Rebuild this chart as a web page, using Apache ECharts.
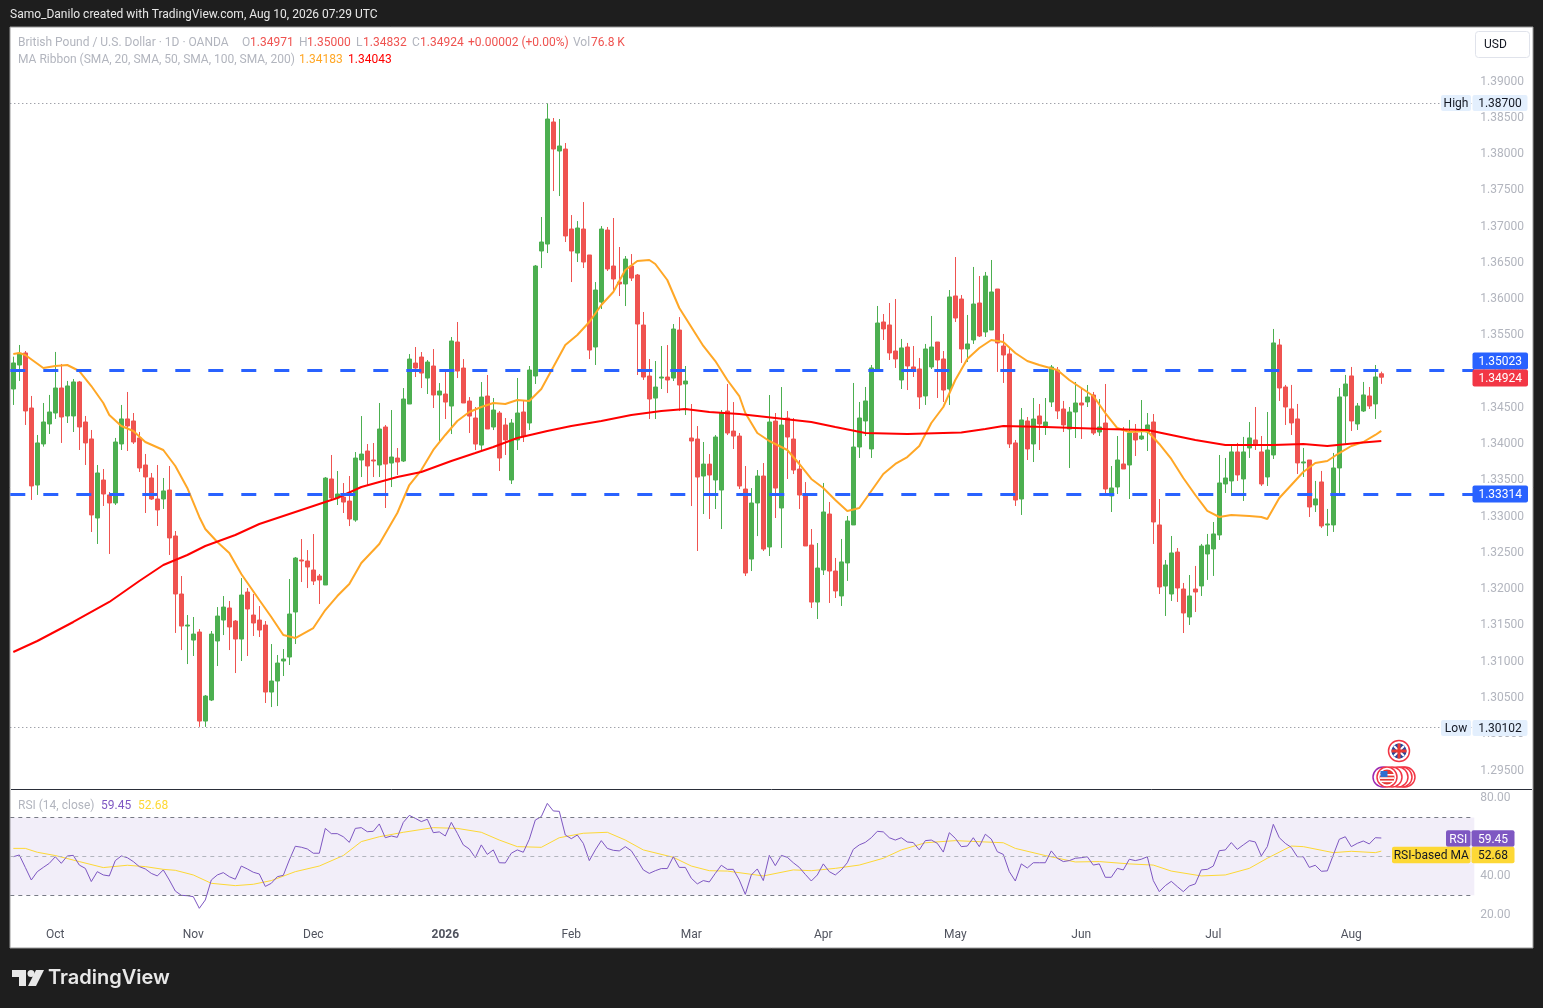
<!DOCTYPE html>
<html><head><meta charset="utf-8">
<style>html,body{margin:0;padding:0;background:#1e1e1e}#c{width:1543px;height:1008px}</style>
<script src="https://cdn.jsdelivr.net/npm/echarts@6/dist/echarts.min.js"></script>
</head><body><div id="c"></div>
<script>
const opens=[1.34761,1.35092,1.35258,1.34499,1.33437,1.34003,1.34279,1.34430,1.34775,1.34389,
1.34389,1.34858,1.34306,1.34072,1.32982,1.33506,1.33300,1.33189,1.34003,1.34348,
1.34320,1.34086,1.33713,1.33534,1.33244,1.33244,1.33368,1.32734,1.31934,1.31492,
1.31299,1.31410,1.30182,1.30472,1.31286,1.31575,1.31741,1.31561,1.31313,1.31961,
1.31644,1.31575,1.31506,1.30582,1.30734,1.31010,1.31065,1.31686,1.32403,1.32389,
1.32265,1.32182,1.32058,1.33520,1.33258,1.33271,1.33216,1.32954,1.33782,1.33906,
1.33782,1.33713,1.34237,1.33740,1.33809,1.33768,1.34554,1.35119,1.35202,1.34912,
1.35078,1.34678,1.34692,1.34526,1.35409,1.35050,1.34595,1.34361,1.33988,1.34664,
1.34237,1.34430,1.34265,1.33506,1.34058,1.34444,1.34292,1.34940,1.36664,1.36760,
1.38443,1.38043,1.38070,1.36967,1.36636,1.36967,1.36609,1.35340,1.35960,1.36953,
1.36457,1.36236,1.36209,1.36457,1.36333,1.35643,1.34940,1.34636,1.34912,1.34926,
1.34912,1.35574,1.34830,1.34085,1.34071,1.33561,1.33726,1.33506,1.33368,1.34457,
1.34181,1.34112,1.33382,1.32416,1.33189,1.33561,1.32582,1.34319,1.33120,1.34361,
1.34071,1.33657,1.33313,1.32609,1.31823,1.32265,1.33037,1.32251,1.31907,1.32362,
1.32886,1.33961,1.34320,1.33934,1.35023,1.35685,1.35644,1.35285,1.34885,1.35340,
1.35065,1.35037,1.34665,1.35065,1.35409,1.35175,1.34761,1.36044,1.36002,1.35313,
1.35437,1.35947,1.35547,1.35575,1.36140,1.35354,1.35244,1.34017,1.33244,1.34320,
1.34003,1.34389,1.34251,1.34582,1.35023,1.34485,1.34209,1.34444,1.34568,1.34582,
1.34678,1.34168,1.34292,1.33286,1.33410,1.33727,1.33713,1.34154,1.34072,1.34168,
1.34306,1.32886,1.32044,1.31934,1.32513,1.32003,1.31617,1.32003,1.32045,1.32486,
1.32555,1.32748,1.33451,1.33493,1.33893,1.33520,1.33948,1.34058,1.33893,1.33548,
1.33851,1.35368,1.34789,1.34486,1.34348,1.33741,1.33782,1.33162,1.33479,1.32886,
1.32886,1.33672,1.34665,1.34941,1.34279,1.34458,1.34665,1.34555,1.34971];
const closes=[1.35120,1.35253,1.34458,1.33424,1.34017,1.34306,1.34444,1.34775,1.34375,1.34803,
1.34858,1.34237,1.34017,1.33024,1.33603,1.33313,1.33189,1.34030,1.34348,1.34251,
1.34030,1.33672,1.33548,1.33244,1.33093,1.33355,1.32707,1.31934,1.31492,1.31506,
1.31382,1.30182,1.30527,1.31382,1.31630,1.31754,1.31479,1.31313,1.31920,1.31727,
1.31534,1.31437,1.30582,1.30734,1.30982,1.31037,1.31658,1.32430,1.32389,1.32306,
1.32113,1.32127,1.33533,1.33258,1.33313,1.33202,1.32968,1.33809,1.33864,1.33699,
1.33768,1.34209,1.33726,1.33823,1.33754,1.34623,1.35174,1.35050,1.34981,1.35133,
1.34678,1.34733,1.34581,1.35423,1.35009,1.34568,1.34388,1.34002,1.34650,1.34209,
1.34471,1.33809,1.34058,1.34292,1.34430,1.34113,1.35023,1.36457,1.36788,1.38484,
1.38070,1.38112,1.36871,1.36664,1.36981,1.36512,1.35298,1.36126,1.36967,1.36416,
1.36278,1.36209,1.36553,1.36291,1.35657,1.34926,1.34623,1.34788,1.34926,1.34885,
1.35588,1.34816,1.34871,1.34044,1.33547,1.33726,1.33575,1.34099,1.34430,1.34154,
1.34112,1.33423,1.32223,1.33189,1.33561,1.32554,1.34306,1.33395,1.34264,1.34099,
1.33644,1.33299,1.32596,1.31823,1.32292,1.33065,1.32251,1.31976,1.32376,1.32941,
1.33961,1.34361,1.34596,1.35051,1.35671,1.35589,1.35258,1.35175,1.35327,1.35078,
1.35023,1.34651,1.35313,1.35340,1.35161,1.34747,1.36030,1.35740,1.35313,1.35382,
1.35933,1.35492,1.36319,1.36099,1.35396,1.35230,1.34003,1.33230,1.34334,1.33934,
1.34347,1.34278,1.34306,1.35064,1.34458,1.34265,1.34444,1.34568,1.34540,1.34651,
1.34154,1.34237,1.33382,1.33396,1.33782,1.33658,1.34154,1.34058,1.34113,1.34265,
1.32927,1.32031,1.32334,1.32500,1.32017,1.31672,1.31907,1.31962,1.32596,1.32610,
1.32762,1.33465,1.33534,1.33893,1.33576,1.33893,1.34086,1.33989,1.33451,1.33920,
1.35396,1.34775,1.34513,1.34293,1.33741,1.33755,1.33134,1.33245,1.32872,1.32900,
1.33672,1.34651,1.34830,1.34320,1.34527,1.34679,1.34527,1.34927,1.34924];
const highs=[1.35207,1.35368,1.35285,1.34665,1.34127,1.34568,1.34679,1.35272,1.35106,1.34872,
1.34899,1.34872,1.34389,1.34196,1.33713,1.33658,1.33341,1.34086,1.34541,1.34720,
1.34430,1.34168,1.33865,1.33603,1.33713,1.33534,1.33699,1.32803,1.32182,1.31644,
1.31617,1.31451,1.30541,1.31424,1.31754,1.31906,1.31837,1.31575,1.32154,1.32016,
1.31934,1.31768,1.31561,1.31244,1.31093,1.31175,1.32141,1.32444,1.32692,1.32540,
1.32761,1.32210,1.33547,1.33851,1.33630,1.33464,1.33561,1.33892,1.34388,1.34002,
1.34016,1.34568,1.34264,1.34471,1.33947,1.34774,1.35243,1.35340,1.35271,1.35161,
1.35312,1.34843,1.35023,1.35478,1.35685,1.35174,1.34650,1.34512,1.34857,1.34954,
1.34637,1.34457,1.34361,1.34347,1.34913,1.34596,1.35078,1.36471,1.37133,1.38700,
1.38498,1.38484,1.38153,1.37160,1.37077,1.37339,1.36609,1.36236,1.37008,1.36995,
1.37119,1.36719,1.36595,1.36622,1.36347,1.35823,1.35174,1.35147,1.35354,1.35367,
1.35657,1.35753,1.35078,1.34554,1.34250,1.34030,1.33864,1.34126,1.34471,1.34830,
1.34581,1.34154,1.33699,1.33395,1.33644,1.33740,1.34678,1.34430,1.34788,1.34457,
1.34361,1.33781,1.33478,1.32830,1.32637,1.33465,1.33203,1.32431,1.32693,1.33010,
1.34844,1.34582,1.34789,1.35092,1.35906,1.35795,1.35947,1.36002,1.35451,1.35396,
1.35354,1.35189,1.35382,1.35768,1.35409,1.35285,1.36126,1.36581,1.36057,1.35782,
1.36444,1.36319,1.36375,1.36540,1.36140,1.35520,1.35327,1.34058,1.34499,1.34375,
1.34637,1.34554,1.34637,1.35092,1.35064,1.34596,1.34513,1.34858,1.34761,1.34816,
1.34720,1.34623,1.34830,1.33699,1.34113,1.34237,1.34334,1.34278,1.34609,1.34430,
1.34416,1.33244,1.32403,1.32734,1.32568,1.32086,1.32196,1.32321,1.32624,1.32762,
1.32927,1.33851,1.33810,1.33975,1.34017,1.34100,1.34306,1.34513,1.34113,1.34444,
1.35589,1.35451,1.34817,1.34817,1.34555,1.33948,1.33782,1.33493,1.33631,1.33107,
1.33879,1.34775,1.34955,1.35065,1.34568,1.34858,1.34789,1.35092,1.35000];
const lows=[1.34541,1.34872,1.34265,1.33231,1.33300,1.33966,1.34141,1.34348,1.34017,1.34292,
1.34168,1.33920,1.33713,1.32789,1.32624,1.33148,1.32486,1.33162,1.33920,1.33906,
1.34003,1.33617,1.33051,1.33231,1.32872,1.33107,1.32472,1.31397,1.31161,1.30968,
1.31079,1.30102,1.30102,1.30458,1.30941,1.31368,1.31161,1.30844,1.31010,1.31079,
1.31355,1.31341,1.30431,1.30375,1.30389,1.30803,1.30955,1.31244,1.32099,1.32016,
1.32058,1.31796,1.32058,1.33216,1.33161,1.33051,1.32871,1.32930,1.33547,1.33437,
1.33547,1.33547,1.33120,1.33409,1.33575,1.33754,1.34554,1.34926,1.34774,1.34692,
1.34499,1.34016,1.34347,1.34140,1.34912,1.34568,1.34154,1.33919,1.33906,1.34209,
1.34195,1.33630,1.33851,1.33451,1.33920,1.34030,1.34196,1.34830,1.36429,1.36636,
1.37491,1.37422,1.36788,1.36236,1.36512,1.36429,1.35174,1.35092,1.35864,1.36388,
1.36098,1.36043,1.35905,1.36250,1.34954,1.34886,1.34347,1.34347,1.34761,1.34705,
1.34871,1.34457,1.34402,1.33147,1.32527,1.33037,1.32968,1.33106,1.32830,1.34126,
1.33933,1.33382,1.32182,1.32251,1.32733,1.32527,1.32458,1.32982,1.32568,1.33520,
1.33588,1.33106,1.32596,1.31741,1.31589,1.32196,1.31810,1.31879,1.31769,1.32114,
1.32886,1.33810,1.34113,1.33810,1.35023,1.35437,1.35161,1.35051,1.34761,1.34747,
1.34927,1.34485,1.34541,1.35037,1.34637,1.34582,1.34541,1.35685,1.35120,1.35134,
1.35382,1.35478,1.35478,1.35575,1.34996,1.34844,1.33948,1.33148,1.33024,1.33782,
1.33754,1.33920,1.34127,1.34513,1.34347,1.34168,1.33672,1.34085,1.34072,1.34513,
1.34127,1.34113,1.33299,1.33065,1.33313,1.33658,1.33244,1.33837,1.34058,1.33906,
1.32624,1.31934,1.31631,1.31838,1.31824,1.31396,1.31507,1.31686,1.31907,1.32128,
1.32183,1.32679,1.33327,1.33286,1.33493,1.33217,1.33810,1.33920,1.33424,1.33424,
1.33796,1.34596,1.34265,1.34127,1.33589,1.33548,1.32996,1.33065,1.32845,1.32734,
1.32790,1.33327,1.34003,1.34182,1.34196,1.34444,1.34486,1.34348,1.34832];

const sma20Bars=[0,1,2,5,7,9,11,13,15,16,18,20,22,25,27,29,31,32,34,36,38,41,43,45,47,50,52,54,56,58,61,64,66,68,70,72,74,76,78,80,82,84,86,88,90,92,94,96,98,100,102,104,106,107,109,111,113,115,117,119,121,122,124,126,129,131,133,135,137,139,141,143,145,147,149,151,153,155,157,159,161,163,165,167,169,171,174,176,178,180,182,184,186,189,191,193,195,197,199,201,203,206,208,209,211,213,215,217,219,221,223,225,227,228];
const sma20=[1.35244,1.35257,1.35230,1.35050,1.35078,1.35092,1.35009,1.34802,1.34568,1.34402,1.34251,1.34182,1.34030,1.33920,1.33699,1.33396,1.32996,1.32830,1.32651,1.32499,1.32210,1.31851,1.31617,1.31369,1.31327,1.31465,1.31713,1.31906,1.32072,1.32362,1.32624,1.33051,1.33437,1.33644,1.33920,1.34127,1.34320,1.34444,1.34513,1.34568,1.34554,1.34609,1.34596,1.34761,1.35064,1.35368,1.35506,1.35685,1.35920,1.36099,1.36402,1.36526,1.36540,1.36485,1.36264,1.35878,1.35616,1.35354,1.35147,1.34885,1.34664,1.34430,1.34154,1.34044,1.33920,1.33727,1.33520,1.33396,1.33230,1.33079,1.33120,1.33354,1.33589,1.33727,1.33823,1.33975,1.34292,1.34513,1.34885,1.35175,1.35326,1.35437,1.35409,1.35257,1.35147,1.35092,1.35023,1.34885,1.34775,1.34664,1.34430,1.34223,1.34168,1.34182,1.34003,1.33796,1.33534,1.33299,1.33079,1.32996,1.33023,1.33010,1.32996,1.32968,1.33258,1.33437,1.33616,1.33740,1.33768,1.33878,1.33975,1.34030,1.34127,1.34183];
const sma200Bars=[0,4,10,16,21,25,29,32,37,41,45,50,54,58,64,68,73,77,80,84,89,93,98,103,108,112,116,121,127,133,137,142,149,158,162,165,172,182,189,193,197,202,210,215,219,224,228];
const sma200=[1.31134,1.31286,1.31548,1.31824,1.32113,1.32334,1.32472,1.32596,1.32748,1.32899,1.33010,1.33148,1.33258,1.33410,1.33547,1.33616,1.33768,1.33878,1.33961,1.34085,1.34182,1.34251,1.34320,1.34402,1.34458,1.34485,1.34444,1.34416,1.34361,1.34306,1.34237,1.34154,1.34140,1.34161,1.34209,1.34251,1.34237,1.34209,1.34196,1.34127,1.34058,1.33989,1.33989,1.34003,1.33975,1.34016,1.34043];
const rsi=[49.8,50.7,44.3,37.8,42.1,44.3,46.4,49.8,46.4,50.2,50.5,45.5,43.8,37,42.1,40.4,39.9,47.8,50.2,49.3,47.3,44.7,43.5,41.2,39.9,43,37.8,32.1,29.9,29.7,29.2,23.2,27.5,37.8,40.4,41.6,39.5,38.2,45,43.5,41.8,40.9,34.5,36.1,39.5,40.2,48.1,55.2,54.7,53.8,51.6,51.6,64.4,61.7,61.7,60.1,57.2,64.4,64.8,62.7,62.9,66.7,59.6,60.5,59.8,67.5,71.1,69.6,67.9,69.1,62.2,62.6,60.5,67.5,61.9,55.9,53.8,49.3,55.9,51,53.3,46.7,46.6,51.6,53.3,52.1,58.8,68.7,70.5,77.3,73.4,73.2,61,59.1,61,56.7,47.8,53.3,58.1,54.1,53.1,52.8,55,52.9,48.1,43,41.2,42.6,43.7,43.7,49.8,44.3,44.3,38.7,35.8,37.5,36.8,41.2,45.4,43.3,43.3,37.8,30.4,40.4,43.5,37.5,50.5,45.2,50.5,49.5,46.7,44.3,40.7,37.3,40.4,46.1,42.1,40.4,43,46.7,53.6,55.9,57.2,59.6,62.9,62.6,59.6,58.4,59.6,57.4,57.1,53.3,58.1,58.4,56.7,52.2,62.2,59.3,55,55.3,59.6,55,61.4,58.9,52.4,51,42.1,37.3,46.1,44,46.7,46.7,46.7,52.8,49,47.3,47.8,49,49.3,49.8,45.5,46.1,39.2,39.2,43.8,43,48.5,47.8,48.5,49.8,37.5,31.8,34.9,37.1,34.4,31.8,34.7,35.8,43,43.3,45,52.9,53.3,57.1,53.6,55.9,58.1,57.4,50.2,55,66.5,59.6,56.7,54.6,49.8,49.8,44.3,45.4,42.3,42.5,50.7,58.8,60.1,55,56.7,57.9,56.4,59.6,59.45];
const rsiMaBars=[0,2,4,7,11,15,19,22,25,27,30,33,37,40,43,47,51,55,58,61,65,70,74,78,81,84,88,91,95,99,102,105,110,113,116,119,125,130,133,137,141,145,148,152,157,165,167,172,177,181,186,190,193,198,202,206,209,213,215,220,223,227,228];
const rsiMa=[54.1,54.1,52.1,50.4,47.3,44.2,45.4,44.7,43.3,42.8,40.4,36.1,34.9,35.6,37.5,42.1,45,50.4,57.6,60.1,62.4,64.8,64.4,62.4,58.4,55,54.65,59.6,61.9,62.4,58.4,53.3,49.5,45,42.6,42.4,39.9,43,42.6,43.8,45.5,49,53.3,57,58.1,57,54.1,50.4,47.1,47.3,46.1,45.5,42.4,39.9,40.4,43.8,49,55.3,55,51.9,52.6,51.9,52.68];
const priceTicks=[1.39,1.385,1.38,1.375,1.37,1.365,1.36,1.355,1.35,1.345,1.34,1.335,1.33,1.325,1.32,1.315,1.31,1.305,1.30,1.295];
const rsiTicks=[80,40,20];
const monthBars=[7,30,50,72,93,113,135,157,178,200,223];
const monthNames=['Oct','Nov','Dec','2026','Feb','Mar','Apr','May','Jun','Jul','Aug'];
const supportLevels=[1.35023,1.33314];
const highLevel=1.387, lowLevel=1.30102;
const totalSlots=244;

const FONT='Roboto, "Noto Sans", sans-serif';
const categories=Array.from({length:totalSlots},(_,i)=>{const k=monthBars.indexOf(i);return k>=0?monthNames[k]:''});
const candles=opens.map((o,i)=>[o,closes[i],lows[i],highs[i]]);
function sparse(bars,vals){const a=new Array(opens.length).fill(null);bars.forEach((b,i)=>a[b]=vals[i]);return a;}

function txt(text,x,y,color,size,extra){return {type:'text',z:120,silent:true,x:x,y:y+1,style:Object.assign({text:text,fill:color,font:(size||12)+'px '+FONT,textVerticalAlign:'middle'},extra||{})};}
function box(x,y,w,h,fill,r){return {type:'rect',z:110,silent:true,shape:{x:x,y:y,width:w,height:h,r:r||0},style:{fill:fill}};}
function tag(x,yc,w,h,fill,color,text,r){return [box(x,yc-h/2,w,h,fill,r||2),txt(text,x+w/2,yc,color,12,{textAlign:'center'})];}

const GR='#b2b5be',RD='#ef5350';
const legend=[
 ['British Pound / U.S. Dollar · 1D · OANDA',18,42,GR],['O',242,42,GR],['1.34971',250,42,RD],['H',299,42,GR],['1.35000',307,42,RD],['L',356,42,GR],['1.34832',363,42,RD],['C',412,42,GR],['1.34924',420,42,RD],['+0.00002 (+0.00%)',468,42,RD],['Vol',573,42,GR],['76.8 K',591,42,RD],
 ['MA Ribbon (SMA, 20, SMA, 50, SMA, 100, SMA, 200)',18,59,GR],['1.34183',299,59,'#ffa726'],['1.34043',348,59,'#ff0000'],
 ['RSI (14, close)',18,805,GR],['59.45',101,805,'#7e57c2'],['52.68',138,805,'#fdd835']
];
function flagUK(cx,cy){return [
 {type:'circle',z:115,silent:true,shape:{cx:cx,cy:cy,r:10.5},style:{fill:'#fff',stroke:'#f23645',lineWidth:1.5}},
 {type:'circle',z:116,silent:true,shape:{cx:cx,cy:cy,r:7.5},style:{fill:'#27479b'}},
 {type:'line',z:117,silent:true,shape:{x1:cx-5,y1:cy-5,x2:cx+5,y2:cy+5},style:{stroke:'#fff',lineWidth:2}},
 {type:'line',z:117,silent:true,shape:{x1:cx-5,y1:cy+5,x2:cx+5,y2:cy-5},style:{stroke:'#fff',lineWidth:2}},
 {type:'rect',z:118,silent:true,shape:{x:cx-7.5,y:cy-1.5,width:15,height:3},style:{fill:'#e53935'}},
 {type:'rect',z:118,silent:true,shape:{x:cx-1.5,y:cy-7.5,width:3,height:15},style:{fill:'#e53935'}}];}
function ring(cx,cy,col,z){return {type:'circle',z:z,silent:true,shape:{cx:cx,cy:cy,r:10},style:{fill:'#fff',stroke:col,lineWidth:1.5}};}
function flagUS(cx,cy){return [
 ring(1383,cy,'#9c27b0',111),ring(1405,cy,'#f23645',112),ring(1402,cy,'#f23645',113),ring(1398,cy,'#f23645',114),ring(1392,cy,'#f23645',115),ring(cx,cy,'#f23645',116),
 {type:'circle',z:117,silent:true,shape:{cx:cx,cy:cy,r:7.5},style:{fill:'#e53935'}},
 {type:'rect',z:118,silent:true,shape:{x:cx-7,y:cy-3,width:14,height:1.6},style:{fill:'#fff'}},
 {type:'rect',z:118,silent:true,shape:{x:cx-7,y:cy+0.3,width:14,height:1.6},style:{fill:'#fff'}},
 {type:'rect',z:118,silent:true,shape:{x:cx-6,y:cy+3.6,width:12,height:1.6},style:{fill:'#fff'}},
 {type:'rect',z:119,silent:true,shape:{x:cx-6.5,y:cy-6,width:7,height:6},style:{fill:'#2f6fd0'}}];}

const graphics=[
 {type:'rect',z:-10,silent:true,shape:{x:10,y:27,width:1523,height:921},style:{fill:'#ffffff',stroke:'#9a9a9a',lineWidth:1}},
 {type:'line',z:100,silent:true,shape:{x1:11,y1:789.5,x2:1532,y2:789.5},style:{stroke:'#2a2e39',lineWidth:1}},
 txt('Samo_Danilo created with TradingView.com, Aug 10, 2026 07:29 UTC',10,14,'#e8e8e8',12),
 ...legend.map(l=>txt(l[0],l[1],l[2],l[3],12)),
 {type:'rect',z:110,silent:true,shape:{x:1475.5,y:31.5,width:54,height:26,r:3},style:{fill:'#fff',stroke:'#e0e3eb',lineWidth:1}},
 txt('USD',1484,44,'#131722',12),
 ...tag(1441,103,30,16,'#e3effd','#131722','High'),
 ...tag(1472.5,103,55,16,'#e3effd','#131722','1.38700'),
 ...tag(1441,728,30,16,'#e3effd','#131722','Low'),
 ...tag(1472.5,728,55,16,'#e3effd','#131722','1.30102'),
 ...tag(1472.5,361,55.5,17,'#2962ff','#ffffff','1.35023'),
 ...tag(1472.5,378,55.5,17,'#f23645','#ffffff','1.34924'),
 ...tag(1472.5,494,55.5,17,'#2962ff','#ffffff','1.33314'),
 ...tag(1446,838.5,24.5,16.5,'#7e57c2','#ffffff','RSI'),
 ...tag(1471.5,838.5,43,16.5,'#7e57c2','#ffffff','59.45'),
 ...tag(1392,855,78.5,16.5,'#fdd835','#131722','RSI-based MA'),
 ...tag(1471.5,855,43,16.5,'#fdd835','#131722','52.68'),
 ...flagUK(1399,751),
 ...flagUS(1387,777),
 {type:'polygon',z:100,silent:true,shape:{points:[[12,970],[26,970],[26,986],[19,986],[19,977],[12,977]]},style:{fill:'#e8e8e8'}},
 {type:'circle',z:100,silent:true,shape:{cx:31,cy:973.5,r:3.5},style:{fill:'#e8e8e8'}},
 {type:'polygon',z:100,silent:true,shape:{points:[[36,970],[44,970],[36,986],[28,986]]},style:{fill:'#e8e8e8'}},
 {type:'text',z:100,silent:true,x:48,y:978,style:{text:'TradingView',fill:'#e8e8e8',font:'600 20px Inter, Roboto, sans-serif',textVerticalAlign:'middle'}}
];

const chart=echarts.init(document.getElementById('c'),null,{renderer:'canvas'});
chart.setOption({
 animation:false,
 backgroundColor:'#1e1e1e',
 textStyle:{fontFamily:FONT},
 grid:[
  {left:10.3,top:27,width:1464,height:762},
  {left:10.3,top:790,width:1464,height:135}
 ],
 xAxis:[
  {type:'category',gridIndex:0,data:categories,axisLine:{show:false},axisTick:{show:false},axisLabel:{show:false},splitLine:{show:false}},
  {type:'category',gridIndex:1,data:categories,axisLine:{show:false},axisTick:{show:false},splitLine:{show:false},
   axisLabel:{interval:(i,v)=>v!=='',margin:4,color:'#50535e',fontSize:12,fontFamily:FONT,
    formatter:v=>v==='2026'?'{b|2026}':v,rich:{b:{fontWeight:'bold',color:'#50535e',fontSize:12,fontFamily:FONT}}}}
 ],
 yAxis:[
  {type:'value',gridIndex:0,position:'right',min:1.29245,max:1.39753,axisLine:{show:false},axisTick:{show:false},splitLine:{show:false},
   axisLabel:{customValues:priceTicks,margin:6,padding:[2,0,0,0],color:GR,fontSize:12,fontFamily:FONT,formatter:v=>v.toFixed(5)}},
  {type:'value',gridIndex:1,position:'right',min:14.6,max:84.2,axisLine:{show:false},axisTick:{show:false},splitLine:{show:false},
   axisLabel:{customValues:rsiTicks,margin:6,padding:[2,0,0,0],color:GR,fontSize:12,fontFamily:FONT,formatter:v=>v.toFixed(2)}}
 ],
 series:[
  {type:'line',name:'levels',xAxisIndex:0,yAxisIndex:0,data:[],z:1,silent:true,
   markLine:{silent:true,symbol:'none',animation:false,precision:5,label:{show:false},
    data:[
     ...supportLevels.map(v=>({yAxis:v,lineStyle:{color:'#2962ff',width:3,type:[15,18]}})),
     {yAxis:highLevel,lineStyle:{color:'#787b86',width:1,type:[1,3]}},
     {yAxis:lowLevel,lineStyle:{color:'#787b86',width:1,type:[1,3]}}
    ]}},
  {type:'candlestick',name:'GBPUSD',xAxisIndex:0,yAxisIndex:0,data:candles,barWidth:5,z:2,silent:true,
   itemStyle:{color:'#4caf50',color0:'#ef5350',borderColor:'#4caf50',borderColor0:'#ef5350',borderWidth:1}},
  {type:'line',name:'SMA 20',xAxisIndex:0,yAxisIndex:0,data:sparse(sma20Bars,sma20),connectNulls:true,showSymbol:false,z:3,silent:true,lineStyle:{color:'#ffa726',width:2}},
  {type:'line',name:'SMA 200',xAxisIndex:0,yAxisIndex:0,data:sparse(sma200Bars,sma200),connectNulls:true,showSymbol:false,z:3,silent:true,lineStyle:{color:'#ff0000',width:2}},
  {type:'line',name:'RSI',xAxisIndex:1,yAxisIndex:1,data:rsi,showSymbol:false,z:4,silent:true,lineStyle:{color:'#7e57c2',width:1},
   markArea:{silent:true,animation:false,itemStyle:{color:'rgba(126,87,194,0.1)'},data:[[{yAxis:70},{yAxis:30}]]},
   markLine:{silent:true,symbol:'none',animation:false,label:{show:false},data:[
     {yAxis:70,lineStyle:{color:'#787b86',width:1,type:[4,4]}},
     {yAxis:50,lineStyle:{color:'#b2b5be',width:1,type:[4,4]}},
     {yAxis:30,lineStyle:{color:'#787b86',width:1,type:[4,4]}}]}},
  {type:'line',name:'RSI MA',xAxisIndex:1,yAxisIndex:1,data:sparse(rsiMaBars,rsiMa),connectNulls:true,showSymbol:false,z:3,silent:true,lineStyle:{color:'#fdd835',width:1}}
 ],
 graphic:{elements:graphics}
});
</script></body></html>
